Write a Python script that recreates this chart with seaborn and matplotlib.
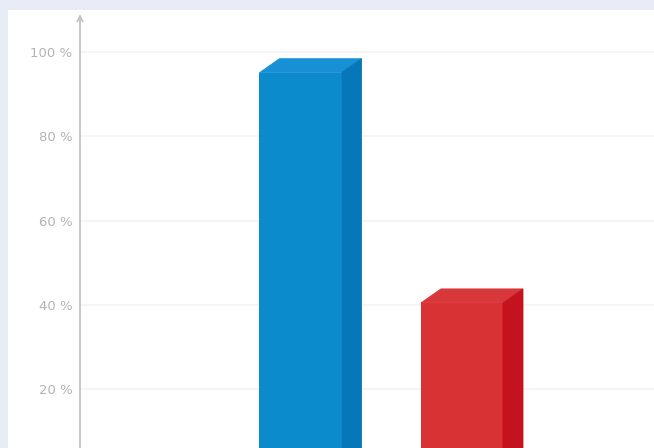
import matplotlib
matplotlib.use("Agg")
import matplotlib.pyplot as plt
from matplotlib.patches import Rectangle, Polygon
import seaborn as sns
import pandas as pd

categories = ["A", "B"]
values = [95, 40.5]
front_colors = ["#0b8bcb", "#d83234"]
side_colors = ["#0677b8", "#c5121f"]
top_colors = ["#1890d6", "#d9383a"]
yticks = [20, 40, 60, 80, 100]
ytick_labels = ["20 %", "40 %", "60 %", "80 %", "100 %"]

sns.set_theme(style="white")
plt.rcParams["font.family"] = ["DejaVu Sans"]

W, H = 654, 448
fig = plt.figure(figsize=(W / 100, H / 100), dpi=100)
fig.patch.set_facecolor("#e8ecf7")
fig.patches.append(Rectangle((8 / W, 0), 1, 1 - 10 / H, transform=fig.transFigure,
                             facecolor="white", edgecolor="none", zorder=-10))

ax = fig.add_axes([80 / W, 0, 1 - 80 / W, 1 - 14 / H])
ax.set_facecolor("none")
ax.set_zorder(5)

df = pd.DataFrame({"cat": categories, "val": values})
sns.barplot(data=df, x="cat", y="val", hue="cat", palette=front_colors,
            legend=False, width=0.508, ax=ax, saturation=1, zorder=3,
            linewidth=0, edgecolor="none")

ax.set_xlim(-1.365, 2.189)
ax.set_ylim(6.15, 108.9)

# 3D faces
px_x = 161.5
px_y = 4.225
dx = 20 / px_x
dy = 14 / px_y
for i, p in enumerate(list(ax.patches)):
    x0 = p.get_x()
    w = p.get_width()
    h = p.get_height()
    top = Polygon([(x0, h), (x0 + w, h), (x0 + w + dx, h + dy), (x0 + dx, h + dy)],
                  closed=True, facecolor=top_colors[i], edgecolor=top_colors[i],
                  lw=0.6, zorder=3)
    side = Polygon([(x0 + w, 0), (x0 + w, h), (x0 + w + dx, h + dy), (x0 + w + dx, 0)],
                   closed=True, facecolor=side_colors[i], edgecolor=side_colors[i],
                   lw=0.6, zorder=3)
    ax.add_patch(top)
    ax.add_patch(side)

# gridlines
for yv in yticks:
    ax.axhline(yv, color="#f3f3f3", lw=1.2, zorder=1)

ax.set_yticks(yticks)
ax.set_yticklabels(ytick_labels)
ax.tick_params(axis="y", length=0, pad=5.5, labelsize=9.5, labelcolor="#b3b3b3")
ax.set_xticks([])
ax.set_xlabel("")
ax.set_ylabel("")
for s in ["top", "right", "bottom", "left"]:
    ax.spines[s].set_visible(False)

# y axis with arrow
ax.annotate("", xy=(0, 1), xycoords="axes fraction", xytext=(0, 0),
            textcoords="axes fraction",
            arrowprops=dict(arrowstyle="->", color="#c4c4c4", lw=1.3,
                            mutation_scale=10, shrinkA=0, shrinkB=0))

fig.savefig("out.png", dpi=100)
